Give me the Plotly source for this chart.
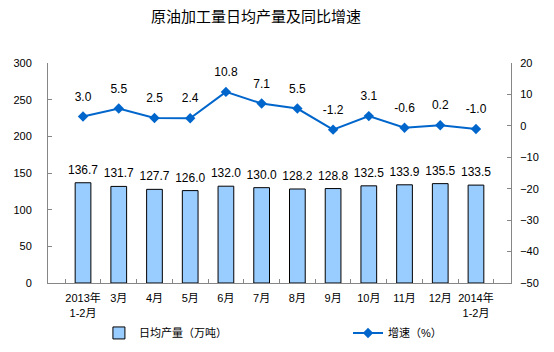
import plotly.graph_objects as go

categories = ["2013年<br>1-2月", "3月", "4月", "5月", "6月", "7月", "8月", "9月", "10月", "11月", "12月", "2014年<br>1-2月"]
output = [136.7, 131.7, 127.7, 126.0, 132.0, 130.0, 128.2, 128.8, 132.5, 133.9, 135.5, 133.5]
growth = [3.0, 5.5, 2.5, 2.4, 10.8, 7.1, 5.5, -1.2, 3.1, -0.6, 0.2, -1.0]
left_ticks = [0, 50, 100, 150, 200, 250, 300]
right_ticks = [-50, -40, -30, -20, -10, 0, 10, 20]

FONT = "Arial, Liberation Sans, Noto Sans CJK SC"

fig = go.Figure()
fig.add_trace(go.Bar(
    x=categories, y=output, name="日均产量（万吨）", legend="legend",
    marker=dict(color="#99CCFF", line=dict(color="#000000", width=1)),
    width=0.44,
))
fig.add_trace(go.Scatter(
    x=categories, y=output, mode="markers+text", showlegend=False,
    marker=dict(size=8, opacity=0),
    text=[f"{v:.1f}" for v in output], textposition="top center",
    textfont=dict(size=12, color="#000000", family=FONT),
    cliponaxis=False, hoverinfo="skip",
))
fig.add_trace(go.Scatter(
    x=categories, y=growth, name="增速（%）", yaxis="y2", legend="legend2",
    mode="lines+markers",
    line=dict(color="#0066CC", width=2),
    marker=dict(symbol="diamond", size=8, color="#0066CC"),
    cliponaxis=False,
))
fig.add_trace(go.Scatter(
    x=categories, y=growth, yaxis="y2", mode="markers+text", showlegend=False,
    marker=dict(size=19, opacity=0),
    text=[f"{v:.1f}" for v in growth], textposition="top center",
    textfont=dict(size=12, color="#000000", family=FONT),
    cliponaxis=False, hoverinfo="skip",
))

legend_common = dict(orientation="h", y=-0.227, yanchor="middle", xanchor="left",
                     font=dict(size=11, family=FONT), bgcolor="rgba(0,0,0,0)")

fig.update_layout(
    width=554, height=352,
    margin=dict(l=48, r=43, t=63, b=69, autoexpand=False),
    paper_bgcolor="white", plot_bgcolor="white",
    font=dict(family=FONT, size=11, color="#000000"),
    title=dict(text="原油加工量日均产量及同比增速", x=256/554, xanchor="center",
               y=1 - 17/352, yanchor="middle",
               font=dict(size=15, family="Noto Sans CJK SC", color="#000000")),
    showlegend=True,
    legend=dict(x=0.11, **legend_common),
    legend2=dict(x=0.648, **legend_common),
    xaxis=dict(
        showline=True, linecolor="#868686", linewidth=1,
        ticks="inside", ticklen=4, tickcolor="#868686", tickson="boundaries",
        tickfont=dict(size=11, family=FONT), tickangle=0, automargin=False,
        ticklabelstandoff=5,
        showgrid=False, zeroline=False,
    ),
    yaxis=dict(
        range=[0, 300], tickvals=left_ticks,
        showline=True, linecolor="#868686", linewidth=1,
        ticks="inside", ticklen=4, tickcolor="#868686",
        tickfont=dict(size=11, family=FONT), automargin=False,
        ticklabelstandoff=13,
        showgrid=False, zeroline=False,
    ),
    yaxis2=dict(
        range=[-50, 20], tickvals=right_ticks, overlaying="y", side="right",
        showline=True, linecolor="#868686", linewidth=1,
        ticks="inside", ticklen=4, tickcolor="#868686",
        tickfont=dict(size=11, family=FONT), automargin=False,
        ticklabelstandoff=6,
        showgrid=False, zeroline=False,
    ),
)

fig.write_html("out.html")
